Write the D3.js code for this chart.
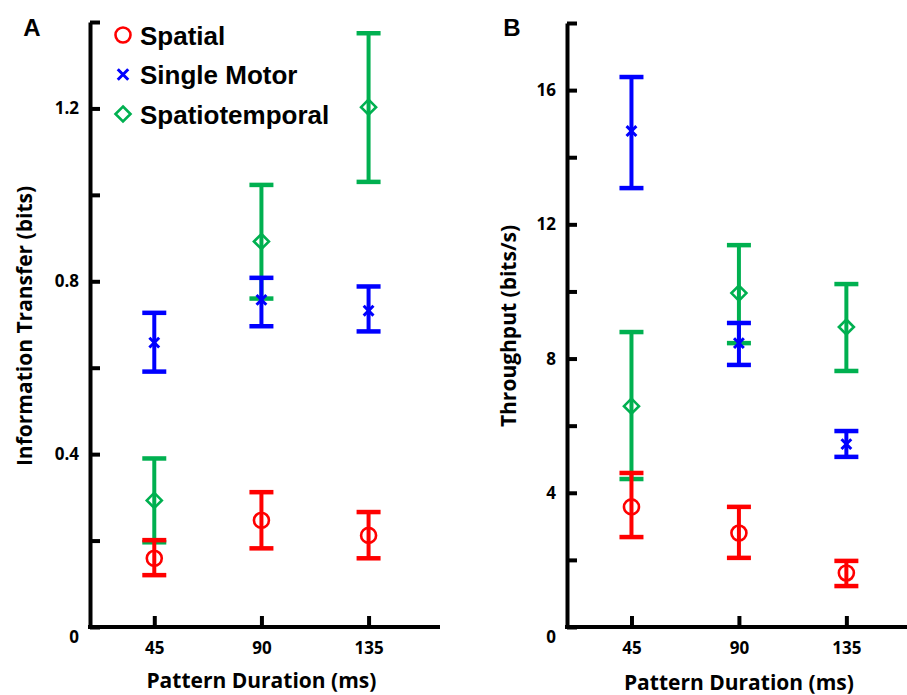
<!DOCTYPE html>
<html>
<head>
<meta charset="utf-8">
<script src="https://cdn.jsdelivr.net/npm/d3@7"></script>
<style>
  body { margin: 0; background: #fff; }
  svg { display: block; }
</style>
</head>
<body>
<div id="chart"></div>
<script>
// pattern durations (ms)
const durations = [45, 90, 135];
const seriesNames = ["Spatial", "Single Motor", "Spatiotemporal"];

// panel A: information transfer (bits), mean / lower / upper
const infoSpatial = [0.159, 0.247, 0.212];
const infoSpatialLo = [0.120, 0.182, 0.159];
const infoSpatialHi = [0.201, 0.312, 0.266];
const infoMotor = [0.658, 0.757, 0.732];
const infoMotorLo = [0.591, 0.696, 0.684];
const infoMotorHi = [0.727, 0.808, 0.788];
const infoSpatio = [0.293, 0.892, 1.203];
const infoSpatioLo = [0.196, 0.760, 1.030];
const infoSpatioHi = [0.390, 1.023, 1.374];

// panel B: throughput (bits/s)
const tputSpatial = [3.58, 2.80, 1.61];
const tputSpatialLo = [2.68, 2.06, 1.22];
const tputSpatialHi = [4.59, 3.58, 1.97];
const tputMotor = [14.78, 8.46, 5.45];
const tputMotorLo = [13.08, 7.81, 5.07];
const tputMotorHi = [16.39, 9.06, 5.84];
const tputSpatio = [6.58, 9.95, 8.94];
const tputSpatioLo = [4.41, 8.46, 7.63];
const tputSpatioHi = [8.79, 11.38, 10.22];

const infoTicks = [0, 0.2, 0.4, 0.6, 0.8, 1.0, 1.2, 1.4];
const infoLabels = [0, 0.4, 0.8, 1.2];
const tputTicks = [0, 2, 4, 6, 8, 10, 12, 14, 16, 18];
const tputLabels = [0, 4, 8, 12, 16];

var width = 907
var height = 695
var colors = { "Spatial": "#ff0000", "Single Motor": "#0000ff", "Spatiotemporal": "#00b050" }
var tickFont = "bold 17px 'Open Sans'"
var titleFont = "bold 21px 'Open Sans'"

var svg = d3.select("#chart")
	.append("svg")
	.attr("width", width)
	.attr("height", height)

function build(mean, lo, hi) {
	return durations.map(function (d, i) { return { x: d, y: mean[i], lo: lo[i], hi: hi[i] } })
}

function drawMarker(g, name, cx, cy, s) {
	var c = colors[name]
	if (name == "Spatial") {
		g.append("circle").attr("cx", cx).attr("cy", cy).attr("r", s)
			.attr("fill", "none").attr("stroke", c).attr("stroke-width", 2.6)
	} else if (name == "Single Motor") {
		var k = s * 0.7
		g.append("path")
			.attr("d", "M" + (cx - k) + "," + (cy - k) + "L" + (cx + k) + "," + (cy + k) +
				"M" + (cx - k) + "," + (cy + k) + "L" + (cx + k) + "," + (cy - k))
			.attr("stroke", c).attr("stroke-width", 3).attr("fill", "none")
	} else {
		g.append("path")
			.attr("d", "M" + cx + "," + (cy - s) + "L" + (cx + s) + "," + cy + "L" + cx + "," + (cy + s) +
				"L" + (cx - s) + "," + cy + "Z")
			.attr("fill", "none").attr("stroke", c).attr("stroke-width", 2.6)
	}
}

function panel(opts) {
	var g = svg.append("g")

	var x = d3.scaleLinear().domain([18, 165]).range([opts.left, opts.right])
	var y = d3.scaleLinear().domain(opts.ydomain).range([627, opts.top])

	// series, drawn back to front
	var order = ["Spatiotemporal", "Single Motor", "Spatial"]
	order.forEach(function (name) {
		var pts = opts.series[name]
		var c = colors[name]
		var sg = g.append("g")
		pts.forEach(function (p) {
			var px = x(p.x)
			sg.append("line").attr("x1", px).attr("x2", px).attr("y1", y(p.lo)).attr("y2", y(p.hi))
				.attr("stroke", c).attr("stroke-width", 4)
			;[p.lo, p.hi].forEach(function (v) {
				sg.append("line").attr("x1", px - 12).attr("x2", px + 12).attr("y1", y(v)).attr("y2", y(v))
					.attr("stroke", c).attr("stroke-width", 4.5)
			})
			drawMarker(sg, name, px, y(p.y), name == "Single Motor" ? 7 : 7.5)
		})
	})

	// y axis
	var yAxis = g.append("g")
		.attr("transform", "translate(" + opts.left + ",0)")
		.call(d3.axisLeft(y).tickValues(opts.ticks)
			.tickFormat(function (d) { return opts.labels.indexOf(d) >= 0 ? d3.format("")(d) : "" })
			.tickSizeInner(-10).tickSizeOuter(0).tickPadding(11))
	yAxis.select(".domain").attr("stroke", "black").attr("stroke-width", 4)
	yAxis.selectAll(".tick line").attr("stroke", "black").attr("stroke-width", 4)
	yAxis.selectAll(".tick text").style("font", tickFont).attr("fill", "black")
	yAxis.selectAll(".tick text").filter(function (d) { return d === 0 }).attr("dy", "0.9em")

	// x axis
	var xAxis = g.append("g")
		.attr("transform", "translate(0,627)")
		.call(d3.axisBottom(x).tickValues(durations)
			.tickSizeInner(-11).tickSizeOuter(0).tickPadding(15))
	xAxis.select(".domain").attr("stroke", "black").attr("stroke-width", 4)
		.attr("d", "M" + (opts.left - 2) + ",0H" + opts.right)
	xAxis.selectAll(".tick line").attr("stroke", "black").attr("stroke-width", 4)
	xAxis.selectAll(".tick text").style("font", tickFont).attr("fill", "black")

	// titles
	g.append("text")
		.attr("x", x(90)).attr("y", opts.xtitleY)
		.attr("text-anchor", "middle")
		.style("font", titleFont)
		.text("Pattern Duration (ms)")

	g.append("text")
		.attr("transform", "translate(" + opts.ytitleX + ",326) rotate(-90)")
		.attr("text-anchor", "middle")
		.style("font", titleFont)
		.text(opts.ytitle)

	g.append("text")
		.attr("x", opts.labelX).attr("y", 36)
		.attr("text-anchor", "middle")
		.style("font", "bold 24px 'Liberation Sans', Arial, sans-serif")
		.text(opts.label)
}

panel({
	left: 90, right: 440, top: 22, ydomain: [0, 1.4],
	ticks: infoTicks, labels: infoLabels,
	series: {
		"Spatial": build(infoSpatial, infoSpatialLo, infoSpatialHi),
		"Single Motor": build(infoMotor, infoMotorLo, infoMotorHi),
		"Spatiotemporal": build(infoSpatio, infoSpatioLo, infoSpatioHi)
	},
	xtitleY: 688, ytitle: "Information Transfer (bits)", ytitleX: 32,
	label: "A", labelX: 32
})

panel({
	left: 567, right: 918, top: 23, ydomain: [0, 18],
	ticks: tputTicks, labels: tputLabels,
	series: {
		"Spatial": build(tputSpatial, tputSpatialLo, tputSpatialHi),
		"Single Motor": build(tputMotor, tputMotorLo, tputMotorHi),
		"Spatiotemporal": build(tputSpatio, tputSpatioLo, tputSpatioHi)
	},
	xtitleY: 690, ytitle: "Throughput (bits/s)", ytitleX: 516,
	label: "B", labelX: 512
})

// legend in panel A
var legend = svg.append("g")
seriesNames.forEach(function (name, i) {
	var cy = 35 + i * 39.5
	drawMarker(legend, name, 123, cy, 7.5)
	legend.append("text")
		.attr("x", 140).attr("y", cy + 9.5)
		.style("font", "bold 26px 'Liberation Sans', Arial, sans-serif")
		.text(name)
})
</script>
</body>
</html>
